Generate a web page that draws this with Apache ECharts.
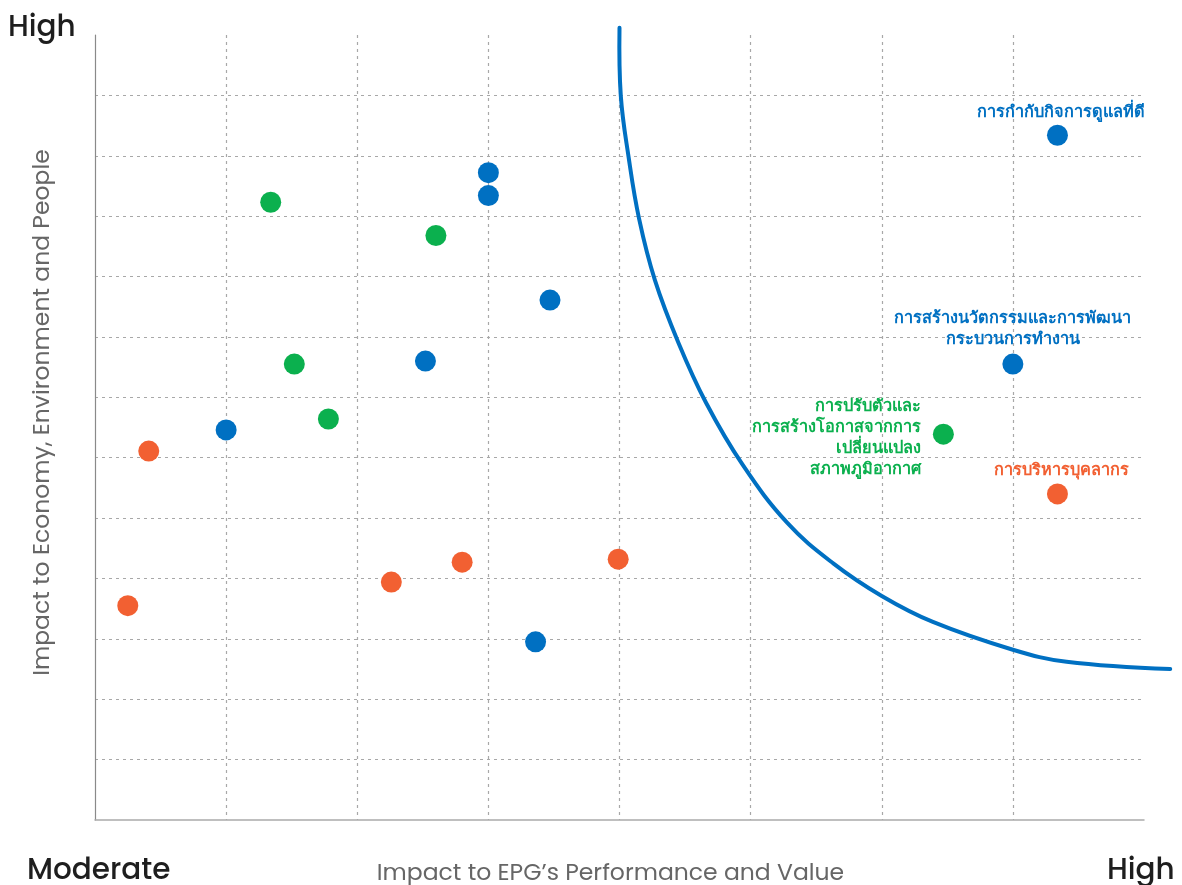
<!DOCTYPE html>
<html>
<head>
<meta charset="utf-8">
<script src="https://cdn.jsdelivr.net/npm/echarts@6/dist/echarts.min.js"></script>
<style>
html,body{margin:0;padding:0;background:#fff;}
#chart{width:1182px;height:885px;}
</style>
</head>
<body>
<div id="chart"></div>
<script>
// ---- data ----
const blueData = [[3.00,10.72],[3.00,10.34],[3.47,8.61],[2.52,7.60],[1.00,6.46],[3.36,2.95],[7.34,11.34],[7.00,7.55]];
const greenData = [[1.34,10.23],[2.60,9.68],[1.52,7.55],[1.78,6.64],[6.47,6.39]];
const orangeData = [[0.41,6.11],[0.25,3.55],[2.26,3.94],[2.80,4.27],[3.99,4.32],[7.34,5.40]];
const curveData = [[4.00,13.12],[4.01,11.99],[4.07,10.97],[4.15,9.95],[4.27,8.94],[4.45,7.90],[4.66,6.91],[4.94,5.88],[5.28,4.92],[5.63,4.25],[6.00,3.71],[6.39,3.28],[7.00,2.82],[7.41,2.62],[8.20,2.50]];
const labelGovernance = 'การกำกับกิจการดูแลที่ดี';
const labelInnovation = 'การสร้างนวัตกรรมและการพัฒนา\nกระบวนการทำงาน';
const labelClimate = 'การปรับตัวและ\nการสร้างโอกาสจากการ\nเปลี่ยนแปลง\nสภาพภูมิอากาศ';
const labelPeople = 'การบริหารบุคลากร';
const xAxisName = 'Impact to EPG’s Performance and Value';
const yAxisName = 'Impact to Economy, Environment and People';
const cornerTop = 'High';
const cornerLeft = 'Moderate';
const cornerRight = 'High';

const BLUE = '#0070C2', GREEN = '#0BB04E', ORANGE = '#F26032';
const labelFont = '"Noto Sans", "DejaVu Sans", sans-serif';
const uiFont = 'Poppins, Inter, "Open Sans", sans-serif';

function pts(arr, color, labels) {
  return arr.map((p, i) => {
    const o = { value: p };
    if (labels[i]) {
      o.label = Object.assign({ show: true, color: color, fontFamily: labelFont, fontSize: 16.3, fontWeight: 600, lineHeight: 21 }, labels[i]);
    }
    return o;
  });
}

const chart = echarts.init(document.getElementById('chart'));
const splitLine = { show: true, showMinLine: false, showMaxLine: false, lineStyle: { color: '#a8a8a8', width: 1.2, type: [3, 4] } };
const cornerStyle = { fill: '#1e1e1e', fontSize: 29.5, fontWeight: 500, fontFamily: uiFont };
chart.setOption({
  animation: false,
  grid: { left: 95, right: 38, top: 35, bottom: 65, outerBoundsMode: 'none', containLabel: false },
  xAxis: {
    type: 'value', min: 0, max: 8, interval: 1,
    axisLine: { show: true, lineStyle: { color: '#aaaaaa', width: 1.5 } },
    axisTick: { show: false }, axisLabel: { show: false },
    splitLine: splitLine,
    name: xAxisName, nameLocation: 'middle', nameGap: 42,
    nameTextStyle: { color: '#666', fontSize: 23.5, fontFamily: uiFont, padding: [0, 18, 0, 0] }
  },
  yAxis: {
    type: 'value', min: 0, max: 13, interval: 1,
    axisLine: { show: true, lineStyle: { color: '#8a8a8a', width: 1.2 } },
    axisTick: { show: false }, axisLabel: { show: false },
    splitLine: splitLine,
    name: yAxisName, nameLocation: 'middle', nameGap: 40, nameRotate: 90,
    nameTextStyle: { color: '#666', fontSize: 23.5, fontFamily: uiFont, padding: [0, 0, 0, 30] }
  },
  graphic: [
    { type: 'text', left: 8, top: 14, style: Object.assign({ text: cornerTop }, cornerStyle) },
    { type: 'text', left: 27, top: 857, style: Object.assign({ text: cornerLeft }, cornerStyle) },
    { type: 'text', left: 1107, top: 857, style: Object.assign({ text: cornerRight }, cornerStyle) }
  ],
  series: [
    { type: 'custom', data: curveData, encode: { x: 0, y: 1 }, clip: false, z: 1, silent: true,
      renderItem: function (params, api) {
        if (params.dataIndex !== 0) return null;
        const points = curveData.map(p => api.coord(p));
        return { type: 'polyline', shape: { points: points, smooth: 0.4 },
          style: { stroke: BLUE, lineWidth: 4, fill: null, lineCap: 'round' } };
      } },
    { type: 'scatter', symbolSize: 21, itemStyle: { color: BLUE, opacity: 1 }, z: 3,
      data: pts(blueData, BLUE, {
        6: { formatter: labelGovernance, position: 'top', distance: 2, offset: [4, 0] },
        7: { formatter: labelInnovation, position: 'top', distance: 4, align: 'center' } }) },
    { type: 'scatter', symbolSize: 21, itemStyle: { color: GREEN, opacity: 1 }, z: 3,
      data: pts(greenData, GREEN, {
        4: { formatter: labelClimate, position: 'left', distance: 12, align: 'right', offset: [0, 4] } }) },
    { type: 'scatter', symbolSize: 21, itemStyle: { color: ORANGE, opacity: 1 }, z: 3,
      data: pts(orangeData, ORANGE, {
        5: { formatter: labelPeople, position: 'top', distance: 3, offset: [4, 0] } }) }
  ]
});
</script>
</body>
</html>
